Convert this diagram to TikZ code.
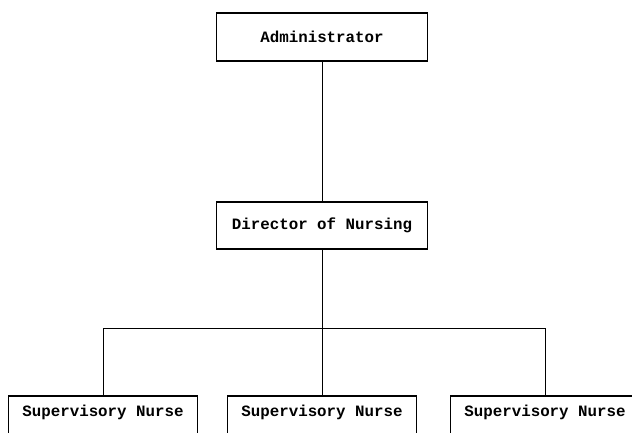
\documentclass[tikz,border=0pt]{standalone}
\usepackage{fontspec}
\setmonofont{Liberation Mono}
\usepackage{tikz}
\usetikzlibrary{positioning}

\begin{document}
\begin{tikzpicture}[
  x=1pt, y=-1pt,
  every node/.style={font=\ttfamily\bfseries\fontsize{15.8}{18}\selectfont},
  box/.style={draw, line width=1.6pt, minimum width=211pt, minimum height=48pt, inner sep=0pt},
  nurse/.style={draw, line width=1.6pt, minimum width=189pt, minimum height=46pt, inner sep=0pt, anchor=north, text height=11pt, text depth=15pt},
  link/.style={line width=1pt}
]
  \useasboundingbox (0,0) rectangle (632,433);
  \clip (0,0) rectangle (632,433);

  % top of the chart
  \node[box] (admin) at (322, 37) {Administrator};
  \node[box, minimum height=47pt] (dir) at (322, 225.5) {Director of Nursing};

  % supervisory level
  \node[nurse] (sup1) at (103, 395) {Supervisory Nurse};
  \node[nurse] (sup2) at (322, 395) {Supervisory Nurse};
  \node[nurse] (sup3) at (545, 395) {Supervisory Nurse};
  \coordinate (bus) at (322, 328);

  \draw[link] (admin) -- (dir);
  \draw[link] (dir) -- (bus);
  \draw[link] (bus) -| (sup1.north);
  \draw[link] (bus) -| (sup3.north);
  \draw[link] (bus) -- (sup2.north);

\end{tikzpicture}
\end{document}
